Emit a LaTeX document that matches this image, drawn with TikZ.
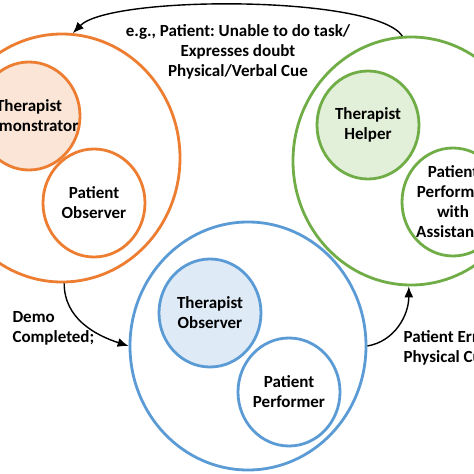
\documentclass[tikz,border=0pt]{standalone}
\usepackage{fontspec}
\setmainfont{Carlito}
\usetikzlibrary{shapes.geometric,arrows.meta}
\frenchspacing

\definecolor{demoline}{HTML}{ED7D31}
\definecolor{demofill}{HTML}{FBE5D6}
\definecolor{assistline}{HTML}{70AD47}
\definecolor{assistfill}{HTML}{E2F0D9}
\definecolor{performline}{HTML}{5B9BD5}
\definecolor{performfill}{HTML}{DEEBF7}

\begin{document}
\begin{tikzpicture}[x=1pt,y=-1pt,
		every node/.style={font=\fontsize{17}{20}\selectfont\bfseries, align=center},
		bigring/.style={draw, ellipse, line width=2.8pt, minimum width=236pt, minimum height=248pt, inner sep=0pt},
		smallring/.style={draw, ellipse, line width=2.8pt, minimum width=102pt, minimum height=108pt, inner sep=0pt},
		role/.style={label={[text=black]center:{#1}}},
		cue/.style={line width=1.4pt, -{Latex[length=11pt,width=9pt]}}]
		\useasboundingbox (0,0) rectangle (474,474);
		\clip (0,0) rectangle (474,474);
		
		\node[bigring, demoline] (demo-mode) at (62,158) {};
		\node[smallring, demoline, fill=demofill, role={Therapist\\Demonstrator}] (demo-therapist) at (29,116) {};
		\node[smallring, demoline, role={Patient\\Observer}] (demo-patient) at (94,203) {};
		
		\node[bigring, assistline] (assist-mode) at (411,161) {};
		\node[smallring, assistline, fill=assistfill, role={Therapist\\Helper}] (assist-therapist) at (368,125) {};
		\node[smallring, assistline, role={Patient\\Performer\\with\\Assistance}] (assist-patient) at (453,202) {};
		
		\node[bigring, performline] (perform-mode) at (248,346) {};
		\node[smallring, performline, fill=performfill, role={Therapist\\Observer}] (perform-therapist) at (210,313) {};
		\node[smallring, performline, role={Patient\\Performer}] (perform-patient) at (289,392) {};
		
		\node (cue-label) at (238,52) {e.g., Patient: Unable to do task/\\Expresses doubt\\Physical/Verbal Cue};
		\node[anchor=west, align=left] (demo-label) at (9,328) {Demo\\Completed;};
		\node[anchor=west, align=left] (error-label) at (400,348) {Patient Error;\\Physical Cue};
		
		\draw[cue] (assist-mode.94) .. controls (375,-5) and (110,-5) .. (demo-mode.85);
		\draw[cue] (demo-mode.271) to[out=-90, in=162] (perform-mode.west);
		\draw[cue] (perform-mode.east) to[out=10, in=-90] (assist-mode.269);
	\end{tikzpicture}
\end{document}
